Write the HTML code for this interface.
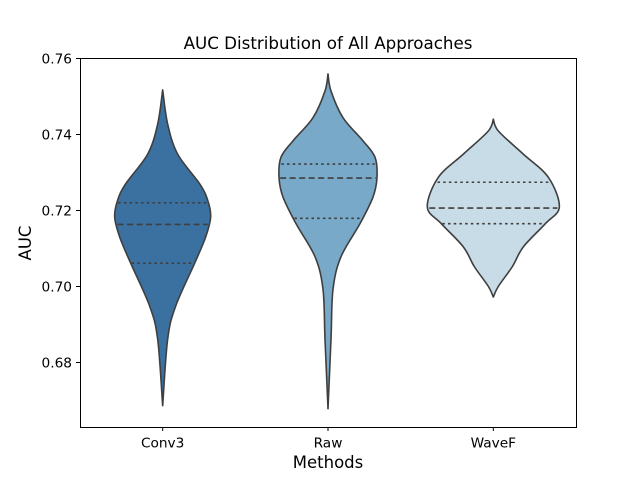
<!DOCTYPE html>
<html><head><meta charset="utf-8"><style>
html,body{margin:0;padding:0;background:#fff}
svg{display:block;font-family:"DejaVu Sans","Liberation Sans",sans-serif}
</style></head><body>
<svg id="chart" width="640" height="480" viewBox="0 0 640 480">
<rect x="0" y="0" width="640" height="480" fill="#fff"/>
<g id="plot"></g>
<rect x="80.5" y="58.5" width="496" height="369" fill="none" stroke="#000" stroke-width="1"/>
<text x="328" y="49" text-anchor="middle" font-size="16.7">AUC Distribution of All Approaches</text>
<text x="328" y="468" text-anchor="middle" font-size="16.5">Methods</text>
<text transform="translate(31,243) rotate(-90)" text-anchor="middle" font-size="16.5">AUC</text>
<g id="axes"></g>
</svg>
<script>
const categories = ["Conv3", "Raw", "WaveF"];
const colors = ["#3a71a1", "#78a9c8", "#c7dce7"];
const yTicks = [0.68, 0.70, 0.72, 0.74, 0.76];
const conv3Values = [0.7516,0.7426,0.7347,0.7269,0.7226,0.7182,0.7129,0.7060,0.6947,0.6860,0.6685];
const conv3Density = [0,5,15,37,45,48,43,32,13,5,0];
const rawValues = [0.7558,0.7513,0.7443,0.7382,0.7339,0.7286,0.7234,0.7164,0.7077,0.6991,0.6860,0.6677];
const rawDensity = [0,3,15,35,47,49,45,32,13,5,3,0];
const wavefValues = [0.7439,0.7408,0.7347,0.7286,0.7208,0.7164,0.7103,0.7051,0.6999,0.6971];
const wavefDensity = [0,5,30,55,66,52,30,19,5,0];
const conv3Quartiles = [0.7060,0.7162,0.7219];
const rawQuartiles = [0.7178,0.7284,0.7321];
const wavefQuartiles = [0.7164,0.7205,0.7273];

const NS="http://www.w3.org/2000/svg";
const L=80,R=576,T=58,B=427;
const yMax=0.76, pxPer=3800;
function y(v){return T+(yMax-v)*pxPer;}
function x(i){return L+(R-L)*(i+0.5)/categories.length;}
const densScale=1;
const plot=document.getElementById('plot');
const axes=document.getElementById('axes');
function mk(tag,attrs,parent){const e=document.createElementNS(NS,tag);for(const k in attrs)e.setAttribute(k,attrs[k]);parent.appendChild(e);return e;}
function halfAt(vals,dens,v){
  for(let k=0;k<vals.length-1;k++){
    if(v<=vals[k]&&v>=vals[k+1]){const t=(vals[k]-v)/(vals[k]-vals[k+1]);return dens[k]+(dens[k+1]-dens[k])*t;}
  }return 0;
}
function smooth(pts){
  let d="M"+pts[0][0]+","+pts[0][1];
  for(let i=0;i<pts.length-1;i++){
    const p0=pts[Math.max(0,i-1)],p1=pts[i],p2=pts[i+1],p3=pts[Math.min(pts.length-1,i+2)];
    const c1=[p1[0]+(p2[0]-p0[0])/6,p1[1]+(p2[1]-p0[1])/6];
    const c2=[p2[0]-(p3[0]-p1[0])/6,p2[1]-(p3[1]-p1[1])/6];
    d+=" C"+c1[0]+","+c1[1]+" "+c2[0]+","+c2[1]+" "+p2[0]+","+p2[1];
  }
  return d;
}
const sets=[[conv3Values,conv3Density,conv3Quartiles],[rawValues,rawDensity,rawQuartiles],[wavefValues,wavefDensity,wavefQuartiles]];
sets.forEach((s,i)=>{
  const cx=x(i);const [vals,dens,q]=s;
  const right=vals.map((v,k)=>[cx+dens[k]*densScale,y(v)]);
  const left=vals.map((v,k)=>[cx-dens[k]*densScale,y(v)]).reverse();
  let d=smooth(right)+" L"+smooth(left).slice(1)+" Z";
  const p=mk('path',{d:d,fill:colors[i],stroke:"#3f3f3f","stroke-width":1.6,"stroke-linejoin":"round"},plot);
  
  
  q.forEach((qv,j)=>{
    const h=halfAt(vals,dens,qv)*densScale-1;
    const ln=mk('line',{x1:cx-h,x2:cx+h,y1:y(qv),y2:y(qv),stroke:"#3f3f3f","stroke-width":1.6,"stroke-dasharray":j===1?"6,3.5":"2.5,3.2"},plot);
    
    
  });
  const tk=mk('line',{x1:cx,x2:cx,y1:B,y2:B+4,stroke:"#000","stroke-width":1},axes);
  
  
  const tl=mk('text',{x:cx,y:B+20.5,"text-anchor":"middle","font-size":13.7},axes);
  tl.textContent=categories[i];
  
  
});
yTicks.forEach(v=>{
  const yy=Math.round(y(v))+0.5;
  const tk=mk('line',{x1:L-4,x2:L,y1:yy,y2:yy,stroke:"#000","stroke-width":1},axes);
  
  
  const tl=mk('text',{x:L-8,y:yy+5,"text-anchor":"end","font-size":13.7},axes);
  tl.textContent=v.toFixed(2);
  
  
});
</script>
</body></html>
